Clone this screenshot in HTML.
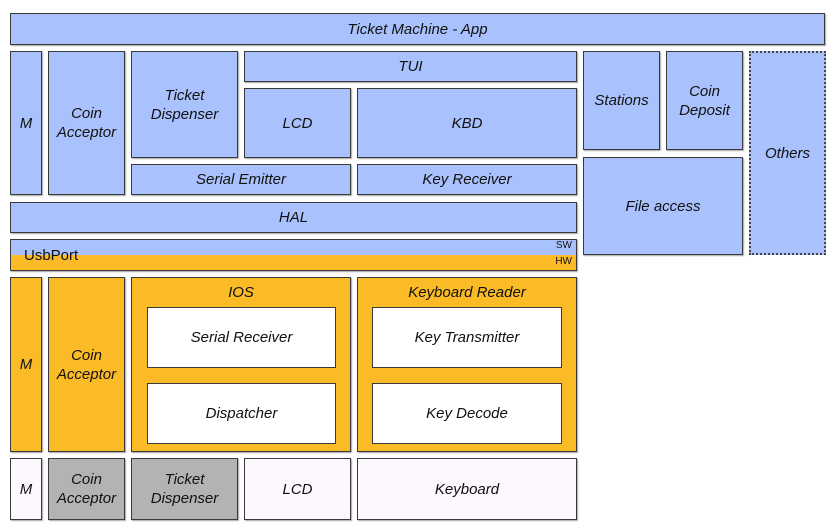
<!DOCTYPE html>
<html><head><meta charset="utf-8"><style>
body{margin:0;width:832px;height:523px;background:#fff;position:relative;overflow:hidden;font-family:"Liberation Sans",sans-serif;}
.b{position:absolute;box-sizing:border-box;border:1.5px solid #3a3a3a;display:flex;align-items:center;justify-content:center;text-align:center;font-style:italic;font-size:15px;line-height:19px;color:#111;box-shadow:1px 1px 1px rgba(0,0,0,.35);}
.bl{background:#a9c1fc}.o{background:#fbbb27}.w{background:#fff}.g{background:#b3b3b3}.p{background:#fcf8fd}
.t{align-items:flex-start;padding-top:5px}
</style></head><body>
<div class="b bl" style="left:10px;top:13px;width:815px;height:32px">Ticket Machine - App</div>
<div class="b bl" style="left:10px;top:51px;width:32px;height:144px">M</div>
<div class="b bl" style="left:48px;top:51px;width:77px;height:144px">Coin<br>Acceptor</div>
<div class="b bl" style="left:131px;top:51px;width:107px;height:107px;align-items:flex-start;padding-top:34px">Ticket<br>Dispenser</div>
<div class="b bl" style="left:244px;top:51px;width:333px;height:31px">TUI</div>
<div class="b bl" style="left:244px;top:88px;width:107px;height:70px">LCD</div>
<div class="b bl" style="left:357px;top:88px;width:220px;height:70px">KBD</div>
<div class="b bl" style="left:131px;top:164px;width:220px;height:31px">Serial Emitter</div>
<div class="b bl" style="left:357px;top:164px;width:220px;height:31px">Key Receiver</div>
<div class="b bl" style="left:583px;top:51px;width:77px;height:99px">Stations</div>
<div class="b bl" style="left:666px;top:51px;width:77px;height:99px">Coin<br>Deposit</div>
<div class="b bl" style="left:583px;top:157px;width:160px;height:98px">File access</div>
<div class="b bl" style="left:749px;top:51px;width:77px;height:204px;border:2px dotted #444;box-shadow:none">Others</div>
<div class="b bl" style="left:10px;top:202px;width:567px;height:31px">HAL</div>
<div class="b" style="left:10px;top:239px;width:567px;height:32px;background:linear-gradient(#a9c1fc 0,#a9c1fc 15px,#fbbb27 15px);display:block;font-style:normal">
<span style="position:absolute;left:13px;top:6px;font-size:15px">UsbPort</span>
<span style="position:absolute;right:4px;top:0px;font-size:10px;line-height:12px">SW</span>
<span style="position:absolute;right:4px;top:16px;font-size:10px;line-height:12px">HW</span></div>
<div class="b o" style="left:10px;top:277px;width:32px;height:175px">M</div>
<div class="b o" style="left:48px;top:277px;width:77px;height:175px">Coin<br>Acceptor</div>
<div class="b o t" style="left:131px;top:277px;width:220px;height:175px">IOS</div>
<div class="b w" style="left:147px;top:307px;width:189px;height:61px;box-shadow:none">Serial Receiver</div>
<div class="b w" style="left:147px;top:383px;width:189px;height:61px;box-shadow:none">Dispatcher</div>
<div class="b o t" style="left:357px;top:277px;width:220px;height:175px">Keyboard Reader</div>
<div class="b w" style="left:372px;top:307px;width:190px;height:61px;box-shadow:none">Key Transmitter</div>
<div class="b w" style="left:372px;top:383px;width:190px;height:61px;box-shadow:none">Key Decode</div>
<div class="b p" style="left:10px;top:458px;width:32px;height:62px">M</div>
<div class="b g" style="left:48px;top:458px;width:77px;height:62px">Coin<br>Acceptor</div>
<div class="b g" style="left:131px;top:458px;width:107px;height:62px">Ticket<br>Dispenser</div>
<div class="b p" style="left:244px;top:458px;width:107px;height:62px">LCD</div>
<div class="b p" style="left:357px;top:458px;width:220px;height:62px">Keyboard</div>
</body></html>
